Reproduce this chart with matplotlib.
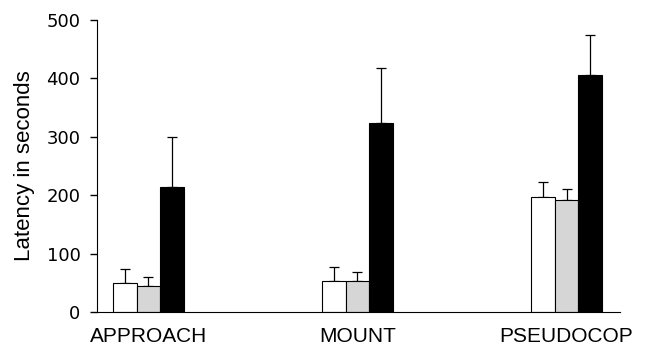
import matplotlib.pyplot as plt
import numpy as np

# latency data
categories = ['APPROACH', 'MOUNT', 'PSEUDOCOP']
white_vals = [49, 53, 197]
white_err = [24, 24, 26]
gray_vals = [44, 53, 192]
gray_err = [16, 15, 19]
black_vals = [214, 324, 406]
black_err = [86, 93, 68]

fig = plt.figure(figsize=(6.47, 3.48), dpi=100)
ax = fig.add_axes([0.150, 0.1034, 0.808, 0.8391])

x = np.arange(len(categories))
w = 0.1125

series = [
    (white_vals, white_err, 'white', -w),
    (gray_vals, gray_err, '#d6d6d6', 0),
    (black_vals, black_err, 'black', w),
]
for vals, err, color, off in series:
    ax.bar(x + off, vals, width=w, color=color, edgecolor='black', linewidth=0.8, zorder=2)
    ax.errorbar(x + off, vals, yerr=[np.zeros(len(vals)), err], fmt='none',
                ecolor='black', elinewidth=0.9, capsize=3.6, capthick=0.9, zorder=1)

ax.set_xlim(-0.245, 2.255)
ax.set_ylim(0, 500)
ax.set_yticks([0, 100, 200, 300, 400, 500])
ax.set_xticks(x)
ax.set_xticklabels(categories, fontsize=15, family='Liberation Sans')
ax.tick_params(axis='x', length=0, pad=11)
ax.tick_params(axis='y', labelsize=13, length=5, width=1, pad=7)
ax.set_ylabel('Latency in seconds', fontsize=16, family='Liberation Sans', labelpad=8)

ax.spines['top'].set_visible(False)
ax.spines['right'].set_visible(False)

fig.savefig('out.png', dpi=100)
